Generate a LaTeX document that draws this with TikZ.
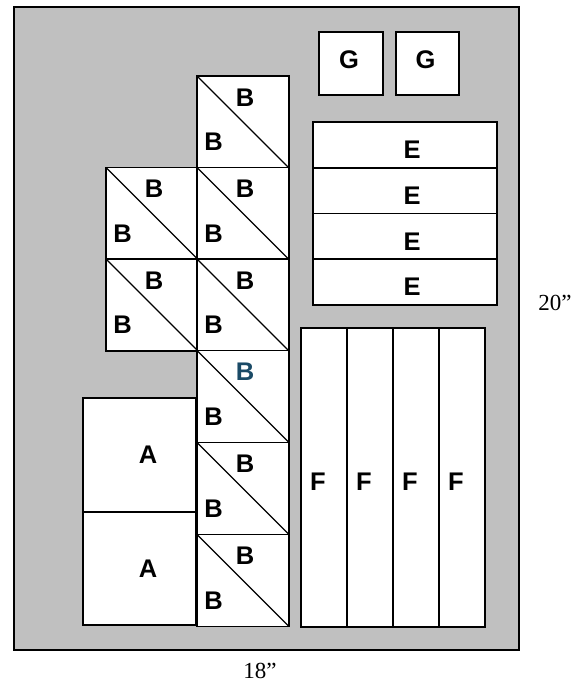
\documentclass[tikz,border=0pt]{standalone}
\usepackage{fontspec}
\setmainfont{Liberation Serif}
\newfontfamily\arialb{Liberation Sans}[BoldFont={Liberation Sans Bold}]
\definecolor{bg}{HTML}{C0C0C0}
\definecolor{bblue}{HTML}{1A4A66}
\begin{document}
\begin{tikzpicture}[x=1pt,y=-1pt,
  piece/.style={draw=black,fill=white,line width=1.4pt,inner sep=0pt,outer sep=0pt,anchor=north west},
  lbl/.style={font=\arialb\bfseries\fontsize{25.5}{25.5}\selectfont,inner sep=0pt},
  dim/.style={font=\fontsize{23}{23}\selectfont,inner sep=0pt}]
\useasboundingbox (0,0) rectangle (587,685);
\node[piece,fill=bg,minimum width=505pt,minimum height=643pt] (board) at (14,7) {};
% B squares
\newcommand{\bsq}[4]{%
  \node[piece,minimum width=92pt,minimum height=92pt] (#1) at (#2,#3) {};
  \draw[line width=1.2pt] (#1.north west) -- (#1.south east);
  \node[lbl,text=#4] (#1u) at ([xshift=48pt,yshift=-21.5pt]#1.north west) {B};
  \node[lbl] (#1l) at ([xshift=16.5pt,yshift=-66pt]#1.north west) {B};}
\bsq{b1}{197}{76}{black}
\bsq{b2}{106}{167.5}{black}
\bsq{b3}{197}{167.5}{black}
\bsq{b4}{106}{259}{black}
\bsq{b5}{197}{259}{black}
\bsq{b6}{197}{350.5}{bblue}
\bsq{b7}{197}{442.5}{black}
\bsq{b8}{197}{534.5}{black}
% A
\node[piece,minimum width=113pt,minimum height=114pt] (a1) at (83,398) {};
\node[piece,minimum width=113pt,minimum height=113pt] (a2) at (83,512) {};
\node[lbl] at (148,455) {A};
\node[lbl] at (148,569) {A};
% G
\node[piece,minimum width=64pt,minimum height=63pt] (g1) at (319,32) {};
\node[piece,minimum width=63pt,minimum height=63pt] (g2) at (396,32) {};
\node[lbl] at ([xshift=-2pt,yshift=4pt]g1.center) {G};
\node[lbl] at ([xshift=-2pt,yshift=4pt]g2.center) {G};
% E
\foreach \i/\y in {1/122,2/168,3/213.5,4/259}{
  \node[piece,minimum width=184pt,minimum height=46pt] (e\i) at (313,\y) {};
  \node[lbl] at ([xshift=7pt,yshift=-5pt]e\i.center) {E};
}
% F
\foreach \i/\x in {1/301,2/347,3/393,4/439}{
  \node[piece,minimum width=46pt,minimum height=299pt] (f\i) at (\x,328) {};
  \node[lbl] at ([xshift=-6pt,yshift=-4pt]f\i.center) {F};
}
% dimensions
\node[dim] (h) at (555,303) {20”};
\node[dim] (w) at (260,671) {18”};
\end{tikzpicture}
\end{document}
